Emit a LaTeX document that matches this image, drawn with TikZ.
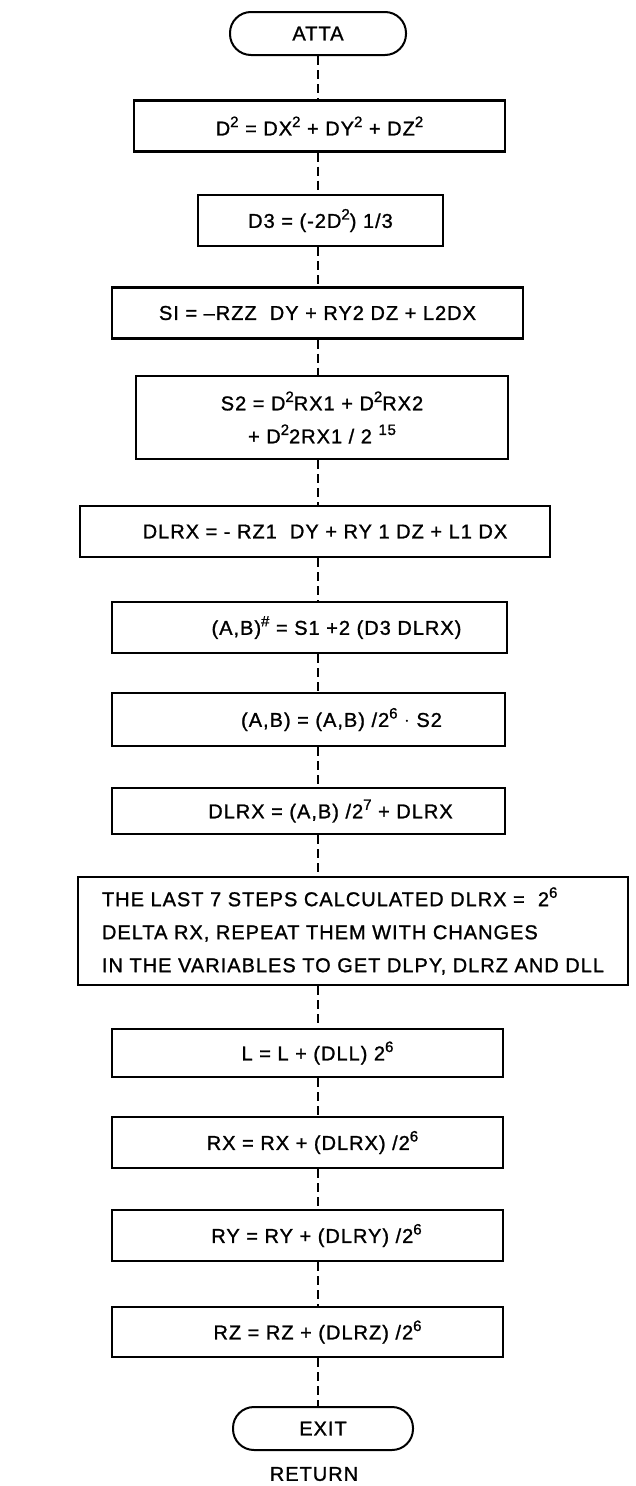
\documentclass[tikz,border=0pt]{standalone}
\usepackage{fontspec}
\usepackage{tikz}
\usetikzlibrary{positioning}
\newfontfamily\flowfont[LetterSpace=5,FakeBold=1.2]{Liberation Sans}
\newcommand{\sq}[1]{\raisebox{0.42em}{\fontsize{15}{15}\selectfont #1}}

\begin{document}
\begin{tikzpicture}[x=1pt, y=-1pt,
        every node/.style={font=\flowfont\fontsize{20}{33}\selectfont},
        proc/.style={draw, line width=2.2pt, align=center, inner sep=0pt,
            minimum height=51pt},
        term/.style={draw, line width=2pt, rounded corners=21pt,
            minimum width=176pt, minimum height=43pt, inner sep=0pt},
        flow/.style={line width=1.8pt, dash pattern=on 9pt off 5pt},
      ]
      \useasboundingbox (0,0) rectangle (635,1486);

      % Terminals and process boxes
      \node[term] (atta) at (318, 33.5) {ATTA};
      \node[proc, minimum width=371pt] (dsq)  at (319.5, 126) {D\sq{2} = DX\sq{2} + DY\sq{2} + DZ\sq{2}};
      \node[proc, minimum width=245pt] (dthr) at (320.5, 220.5) {D3 = (-2D\sq{2}) 1/3};
      \node[proc, minimum width=411pt] (sone) at (317.5, 313) {SI = \textendash RZZ\ \ DY + RY2 DZ + L2DX};
      \node[proc, minimum width=372pt, minimum height=83pt] (stwo) at (322, 417.5)
        {S2 = D\sq{2}RX1 + D\sq{2}RX2\\ + D\sq{2}2RX1 / 2 \sq{15}};
      \node[proc, minimum width=470pt] (dlrx) at (315, 531.5) {\hspace*{20pt}DLRX = - RZ1\ \ DY + RY 1 DZ + L1 DX};
      \node[proc, minimum width=395pt] (abh)  at (309.5, 627.5) {\hspace*{54pt}(A,B)\sq{\#} = S1 +2 (D3 DLRX)};
      \node[proc, minimum width=393pt, minimum height=53pt] (ab) at (308.5, 719.5) {\hspace*{66pt}(A,B) = (A,B) /2\sq{6} $\cdot$ S2};
      \node[proc, minimum width=393pt, minimum height=46pt] (dlrxb) at (308.5, 811) {\hspace*{44pt}DLRX = (A,B) /2\sq{7} + DLRX};
      \node[proc, minimum width=550pt, minimum height=108pt, align=left] (note) at (353, 931)
        {THE LAST 7 STEPS CALCULATED DLRX = \ 2\sq{6}\\
         DELTA RX, REPEAT THEM WITH CHANGES\\
         IN THE VARIABLES TO GET DLPY, DLRZ AND DLL};
      \node[proc, minimum width=391pt, minimum height=48pt] (lupd)  at (307.5, 1053) {\hspace*{20pt}L = L + (DLL) 2\sq{6}};
      \node[proc, minimum width=391pt] (rxupd) at (307.5, 1142.5) {\hspace*{10pt}RX = RX + (DLRX) /2\sq{6}};
      \node[proc, minimum width=391pt] (ryupd) at (307.5, 1235.5) {\hspace*{18pt}RY = RY + (DLRY) /2\sq{6}};
      \node[proc, minimum width=391pt, minimum height=50pt] (rzupd) at (307.5, 1332) {\hspace*{20pt}RZ = RZ + (DLRZ) /2\sq{6}};
      \node[term, minimum width=180pt] (exit) at (323, 1428.5) {EXIT};
      \node (ret) at (314, 1474) {RETURN};

      % Spine of the chart
      \coordinate (spine) at (318, 0);

      % Connectors
      \draw[flow] (spine |- atta.south)  -- (spine |- dsq.north);
      \draw[flow] (spine |- dsq.south)   -- (spine |- dthr.north);
      \draw[flow] (spine |- dthr.south)  -- (spine |- sone.north);
      \draw[flow] (spine |- sone.south)  -- (spine |- stwo.north);
      \draw[flow] (spine |- stwo.south)  -- (spine |- dlrx.north);
      \draw[flow] (spine |- dlrx.south)  -- (spine |- abh.north);
      \draw[flow] (spine |- abh.south)   -- (spine |- ab.north);
      \draw[flow] (spine |- ab.south)    -- (spine |- dlrxb.north);
      \draw[flow] (spine |- dlrxb.south) -- (spine |- note.north);
      \draw[flow] (spine |- note.south)  -- (spine |- lupd.north);
      \draw[flow] (spine |- lupd.south)  -- (spine |- rxupd.north);
      \draw[flow] (spine |- rxupd.south) -- (spine |- ryupd.north);
      \draw[flow] (spine |- ryupd.south) -- (spine |- rzupd.north);
      \draw[flow] (spine |- rzupd.south) -- (spine |- exit.north);

    \end{tikzpicture}
\end{document}
